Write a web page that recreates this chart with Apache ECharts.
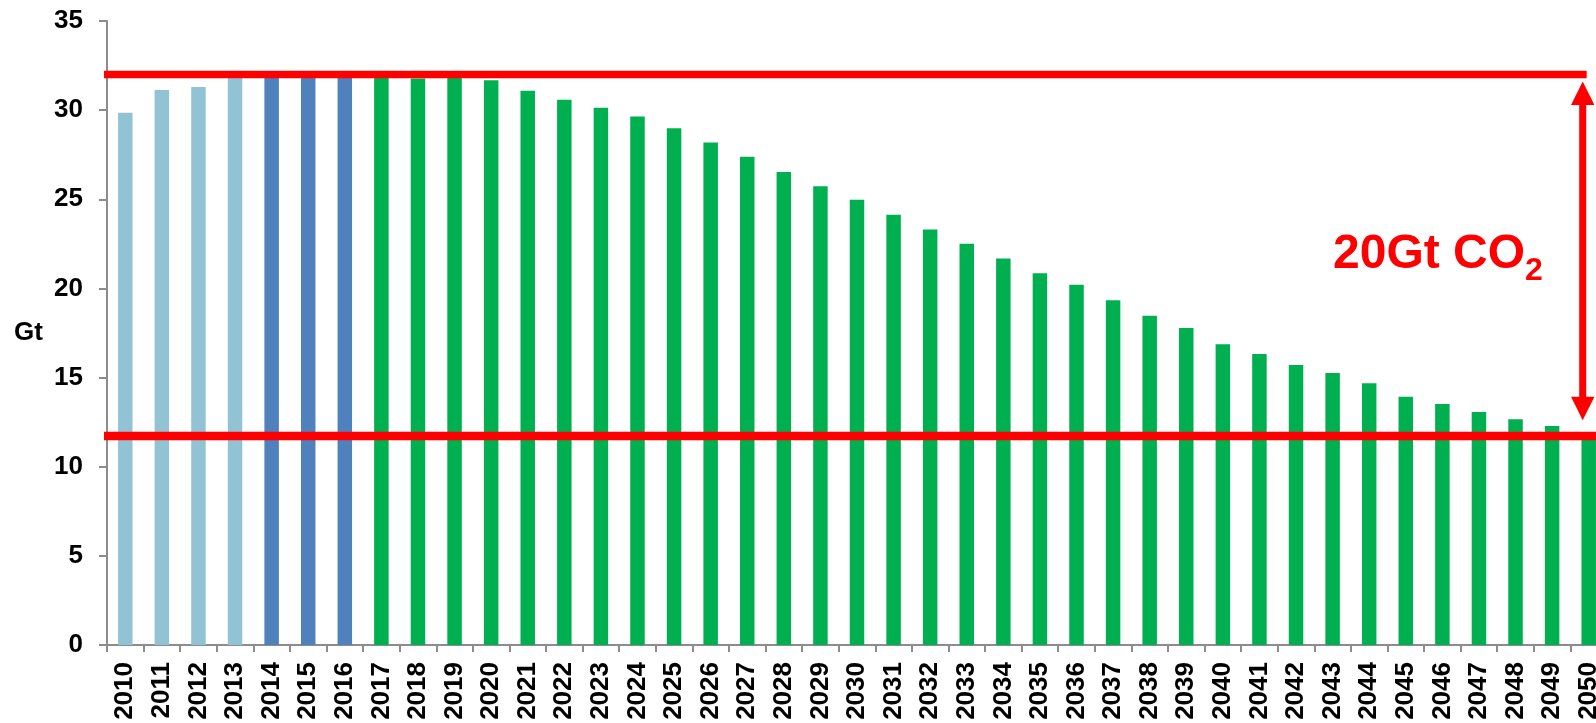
<!DOCTYPE html>
<html>
<head>
<meta charset="utf-8">
<script src="https://cdn.jsdelivr.net/npm/echarts/dist/echarts.min.js"></script>
<style>
html,body{margin:0;padding:0;background:#fff;}
#chart{width:1596px;height:723px;}
</style>
</head>
<body>
<div id="chart"></div>
<script>
// ---- data ----
const years = ['2010','2011','2012','2013','2014','2015','2016','2017','2018','2019','2020',
  '2021','2022','2023','2024','2025','2026','2027','2028','2029','2030',
  '2031','2032','2033','2034','2035','2036','2037','2038','2039','2040',
  '2041','2042','2043','2044','2045','2046','2047','2048','2049','2050'];
const emissions = [29.85, 31.13, 31.3, 31.9, 32.0, 32.0, 32.0, 31.9, 31.78, 31.8, 31.67,
  31.09, 30.58, 30.14, 29.64, 28.98, 28.19, 27.39, 26.53, 25.73, 24.98,
  24.13, 23.3, 22.5, 21.68, 20.85, 20.2, 19.33, 18.47, 17.78, 16.87,
  16.32, 15.7, 15.25, 14.68, 13.92, 13.52, 13.07, 12.66, 12.29, 11.8];
// phase of each year: 0 = earlier history, 1 = recent history, 2 = pathway
const phases = [0,0,0,0,1,1,1,2,2,2,2,2,2,2,2,2,2,2,2,2,2,2,2,2,2,2,2,2,2,2,2,2,2,2,2,2,2,2,2,2,2];
const phaseColors = ['#92C3D5', '#4F81BD', '#00B050'];
const yTicks = [0, 5, 10, 15, 20, 25, 30, 35];
const startLevel = 32.0;   // upper reference line (Gt)
const endLevel = 11.72;    // lower reference line (Gt)
const arrowTopValue = 31.6;
const arrowBottomValue = 12.6;
const annotation = '20Gt CO';
const annotationSub = '2';

const FONT = '"Liberation Sans", Arial, sans-serif';

function phaseSeries(p) {
  return emissions.map((v, i) => phases[i] === p ? v : null);
}

const chart = echarts.init(document.getElementById('chart'), null, {renderer: 'canvas'});
chart.setOption({
  animation: false,
  backgroundColor: '#ffffff',
  grid: {left: 107, width: 1500, top: 21, bottom: 78, containLabel: false, outerBoundsMode: 'none'},
  xAxis: {
    type: 'category',
    data: years,
    boundaryGap: true,
    axisLine: {show: true, lineStyle: {color: '#8c8c8c', width: 2}},
    axisTick: {show: true, length: 7, interval: 0, lineStyle: {color: '#8c8c8c', width: 2}},
    axisLabel: {interval: 0, rotate: 90, margin: 17, color: '#000', fontSize: 26, fontWeight: 'bold', fontFamily: FONT},
    splitLine: {show: false}
  },
  yAxis: {
    type: 'value',
    min: yTicks[0],
    max: yTicks[yTicks.length - 1],
    interval: yTicks[1] - yTicks[0],
    name: 'Gt',
    nameLocation: 'middle',
    nameRotate: 0,
    nameGap: 64,
    nameTextStyle: {color: '#000', fontSize: 26, fontWeight: 'bold', fontFamily: FONT},
    axisLine: {show: true, lineStyle: {color: '#8c8c8c', width: 2}},
    axisTick: {show: true, length: 8, lineStyle: {color: '#8c8c8c', width: 2}},
    axisLabel: {margin: 24, color: '#000', fontSize: 26, fontWeight: 'bold', fontFamily: FONT},
    splitLine: {show: false}
  },
  series: [0, 1, 2].map(p => ({
    type: 'bar',
    data: phaseSeries(p),
    barWidth: 14.5,
    barGap: '-100%',
    itemStyle: {color: phaseColors[p]},
    z: 2
  }))
});

// red annotations positioned through the chart's own scales
const yTop = chart.convertToPixel({yAxisIndex: 0}, startLevel);
const yBot = chart.convertToPixel({yAxisIndex: 0}, endLevel);
const xLast = chart.convertToPixel({xAxisIndex: 0}, years[years.length - 1]);
const xFirst = chart.convertToPixel({xAxisIndex: 0}, years[0]);
const band = chart.convertToPixel({xAxisIndex: 0}, years[1]) - xFirst;
const xAxisStart = xFirst - band / 2;
const arrowX = xLast - 6;
const aTop = chart.convertToPixel({yAxisIndex: 0}, arrowTopValue);
const aBot = chart.convertToPixel({yAxisIndex: 0}, arrowBottomValue);
const headLen = 23.5, headHalf = 11.7;
const RED = '#FF0000';

chart.setOption({
  graphic: [
    {type: 'line', z: 10, shape: {x1: xAxisStart - 3, y1: yTop, x2: xLast - 2, y2: yTop},
      style: {stroke: RED, lineWidth: 7.5}},
    {type: 'line', z: 10, shape: {x1: xAxisStart - 3, y1: yBot, x2: 1600, y2: yBot},
      style: {stroke: RED, lineWidth: 8.5}},
    {type: 'line', z: 10, shape: {x1: arrowX, y1: aTop + headLen - 1, x2: arrowX, y2: aBot - headLen + 1},
      style: {stroke: RED, lineWidth: 7}},
    {type: 'polygon', z: 10, shape: {points: [[arrowX - headHalf, aTop + headLen], [arrowX + headHalf, aTop + headLen], [arrowX, aTop]]},
      style: {fill: RED}},
    {type: 'polygon', z: 10, shape: {points: [[arrowX - headHalf, aBot - headLen], [arrowX + headHalf, aBot - headLen], [arrowX, aBot]]},
      style: {fill: RED}},
    {type: 'text', z: 11, x: 1333, y: 255,
      style: {text: annotation, fill: RED, font: 'bold 48px ' + FONT, verticalAlign: 'middle', align: 'left'}},
    {type: 'text', z: 11, x: 1525, y: 271,
      style: {text: annotationSub, fill: RED, font: 'bold 32px ' + FONT, verticalAlign: 'middle', align: 'left'}}
  ]
});
</script>
</body>
</html>
